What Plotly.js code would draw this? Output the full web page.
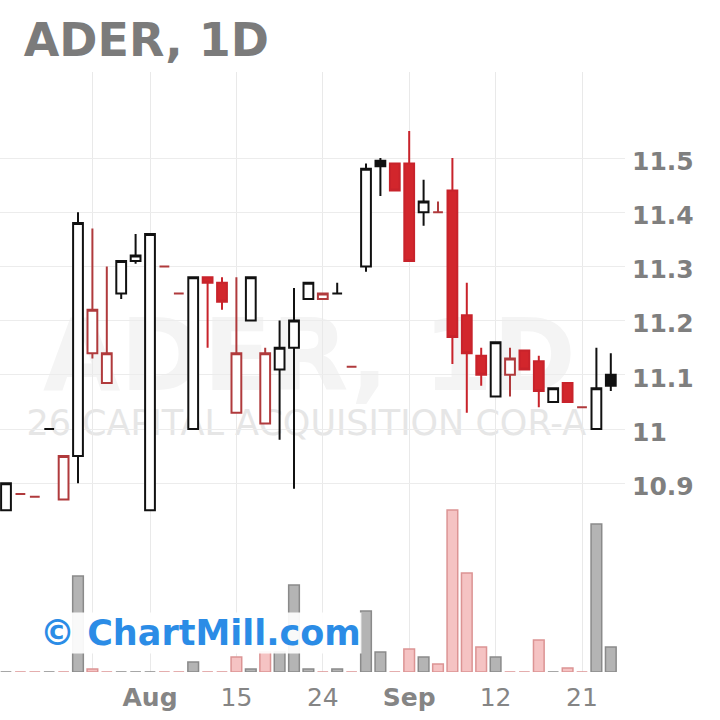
<!DOCTYPE html>
<html>
<head>
<meta charset="utf-8">
<script src="https://cdn.plot.ly/plotly-3.0.1.min.js"></script>
<style>
html,body{margin:0;padding:0;background:#ffffff;}
#chart{width:720px;height:720px;}
</style>
</head>
<body>
<div id="chart"></div>
<script>
// ---- data ----
const openP  = [10.85,10.88,10.875,11.00,10.87,10.95,11.14,11.085,11.25,11.31,10.85,11.30,11.25,11.00,11.28,11.27,11.03,11.20,11.01,11.11,11.15,11.24,11.24,11.25,11.115,11.30,11.495,11.49,11.49,11.40,11.40,11.44,11.21,11.135,11.06,11.10,11.145,11.125,11.05,11.085,11.04,11.00,11.10];
const highP  = [10.90,10.88,10.875,11.00,10.95,11.40,11.37,11.30,11.31,11.36,11.36,11.30,11.25,11.28,11.28,11.28,11.28,11.28,11.15,11.20,11.26,11.27,11.25,11.27,11.115,11.49,11.50,11.49,11.55,11.46,11.42,11.50,11.27,11.15,11.16,11.15,11.145,11.135,11.075,11.085,11.04,11.15,11.14];
const lowP   = [10.85,10.88,10.875,11.00,10.87,10.90,11.13,11.085,11.24,11.305,10.85,11.30,11.25,11.00,11.15,11.22,11.03,11.20,11.01,10.98,10.89,11.24,11.24,11.25,11.115,11.29,11.43,11.44,11.31,11.375,11.40,11.12,11.03,11.08,11.06,11.06,11.11,11.04,11.05,11.05,11.04,11.00,11.07];
const closeP = [10.90,10.88,10.875,11.00,10.95,11.38,11.22,11.14,11.31,11.32,11.36,11.30,11.25,11.28,11.27,11.235,11.14,11.28,11.14,11.15,11.20,11.27,11.25,11.25,11.115,11.48,11.485,11.44,11.31,11.42,11.40,11.17,11.14,11.10,11.16,11.13,11.11,11.07,11.075,11.05,11.04,11.075,11.08];
const volume = [0,0,0,0,0,96000,3000,0,0,0,0,0,0,10000,0,0,15000,3000,20000,20000,87000,3000,0,3000,0,61000,20000,0,23000,15000,8000,162000,99000,25000,15000,0,0,32000,0,4000,0,148000,25000];

const tickIdx    = [6, 10, 16, 22, 28, 34, 40];
const tickLabels = ['', '<b>Aug</b>', '15', '24', '<b>Sep</b>', '12', '21'];
const priceTicks = [10.9, 11, 11.1, 11.2, 11.3, 11.4, 11.5];
const priceTickLabels = ['10.9', '11', '11.1', '11.2', '11.3', '11.4', '11.5'];

// ---- derived ----
const sessions = closeP.map((_, i) => i);
const isUp = closeP.map((c, i) => i === 0 || c >= closeP[i - 1]);
const isFilled = closeP.map((c, i) => c < openP[i]);

const candleStyles = [
  {up: true,  filled: false, line: '#111111', fill: '#ffffff'},
  {up: true,  filled: true,  line: '#111111', fill: '#111111'},
  {up: false, filled: false, line: '#b03a3c', fill: '#ffffff'},
  {up: false, filled: true,  line: '#c8232b', fill: '#d2262c'}
];

const traces = [];

// volume bars (drawn first, beneath candles)
traces.push({
  type: 'bar',
  x: sessions,
  y: volume,
  yaxis: 'y2',
  width: 0.74,
  marker: {
    color: isUp.map(u => u ? '#b4b4b4' : '#f5c3c3'),
    line: {color: isUp.map(u => u ? '#8a8a8a' : '#dc9494'), width: 1.5}
  },
  hoverinfo: 'skip'
});

candleStyles.forEach(st => {
  const sel = sessions.filter(i => isUp[i] === st.up && isFilled[i] === st.filled);
  if (!sel.length) return;
  const s = {line: {color: st.line, width: 2}, fillcolor: st.fill};
  traces.push({
    type: 'candlestick',
    x: sel,
    open: sel.map(i => openP[i]),
    high: sel.map(i => highP[i]),
    low: sel.map(i => lowP[i]),
    close: sel.map(i => closeP[i]),
    increasing: s,
    decreasing: s,
    whiskerwidth: 0,
    hoverinfo: 'skip'
  });
});

const layout = {
  width: 720,
  height: 720,
  margin: {l: 0, r: 95, t: 72, b: 48},
  paper_bgcolor: '#ffffff',
  plot_bgcolor: '#ffffff',
  showlegend: false,
  boxgap: 0.32,
  boxgroupgap: 0,
  title: {
    text: 'ADER, 1D',
    x: 0.033, xanchor: 'left', xref: 'container',
    y: 0.945, yanchor: 'middle', yref: 'container',
    font: {family: 'DejaVu Sans', size: 46, color: '#7b7b7b', weight: 'bold'}
  },
  xaxis: {
    range: [-0.4167, 42.986],
    tickvals: tickIdx,
    ticktext: tickLabels,
    showgrid: true,
    gridcolor: '#e9e9e9',
    gridwidth: 1,
    zeroline: false,
    showline: false,
    ticks: '',
    ticklabelstandoff: 8,
    tickfont: {family: 'DejaVu Sans', size: 25, color: '#858585'},
    rangeslider: {visible: false},
    fixedrange: true
  },
  yaxis: {
    range: [10.5517, 11.6587],
    side: 'right',
    tickvals: priceTicks,
    ticktext: priceTickLabels,
    showgrid: true,
    gridcolor: '#ececec',
    gridwidth: 1,
    zeroline: false,
    showline: false,
    ticks: '',
    ticklabelstandoff: 6,
    ticklabelshift: 3,
    tickfont: {family: 'DejaVu Sans', size: 25, color: '#7f7f7f', weight: 'bold'},
    fixedrange: true
  },
  yaxis2: {
    overlaying: 'y',
    range: [0, 600000],
    visible: false,
    fixedrange: true
  },
  shapes: [
    {
      type: 'rect', xref: 'paper', yref: 'paper',
      x0: 0.06, x1: 0.93, y0: 0.45, y1: 0.63,
      line: {width: 0}, fillcolor: 'rgba(0,0,0,0)', layer: 'below',
      label: {text: 'ADER, 1D', textposition: 'middle center',
              font: {family: 'DejaVu Sans', size: 100, color: '#f4f4f4', weight: 'bold'}}
    },
    {
      type: 'rect', xref: 'paper', yref: 'paper',
      x0: 0.04, x1: 0.94, y0: 0.39, y1: 0.45,
      line: {width: 0}, fillcolor: 'rgba(0,0,0,0)', layer: 'below',
      label: {text: '26 CAPITAL ACQUISITION COR-A', textposition: 'middle center',
              font: {family: 'DejaVu Sans', size: 35, color: '#e6e6e6'}}
    }
  ],
  annotations: [
    {
      text: '© ChartMill.com',
      xref: 'paper', yref: 'paper',
      x: 0.32, y: 0.065, xanchor: 'center', yanchor: 'middle',
      showarrow: false,
      bgcolor: 'rgba(255,255,255,0.92)',
      borderpad: 0,
      font: {family: 'DejaVu Sans', size: 35, color: '#2b8ce6', weight: 'bold'}
    }
  ]
};

Plotly.newPlot('chart', traces, layout, {displayModeBar: false, staticPlot: true});
</script>
</body>
</html>
